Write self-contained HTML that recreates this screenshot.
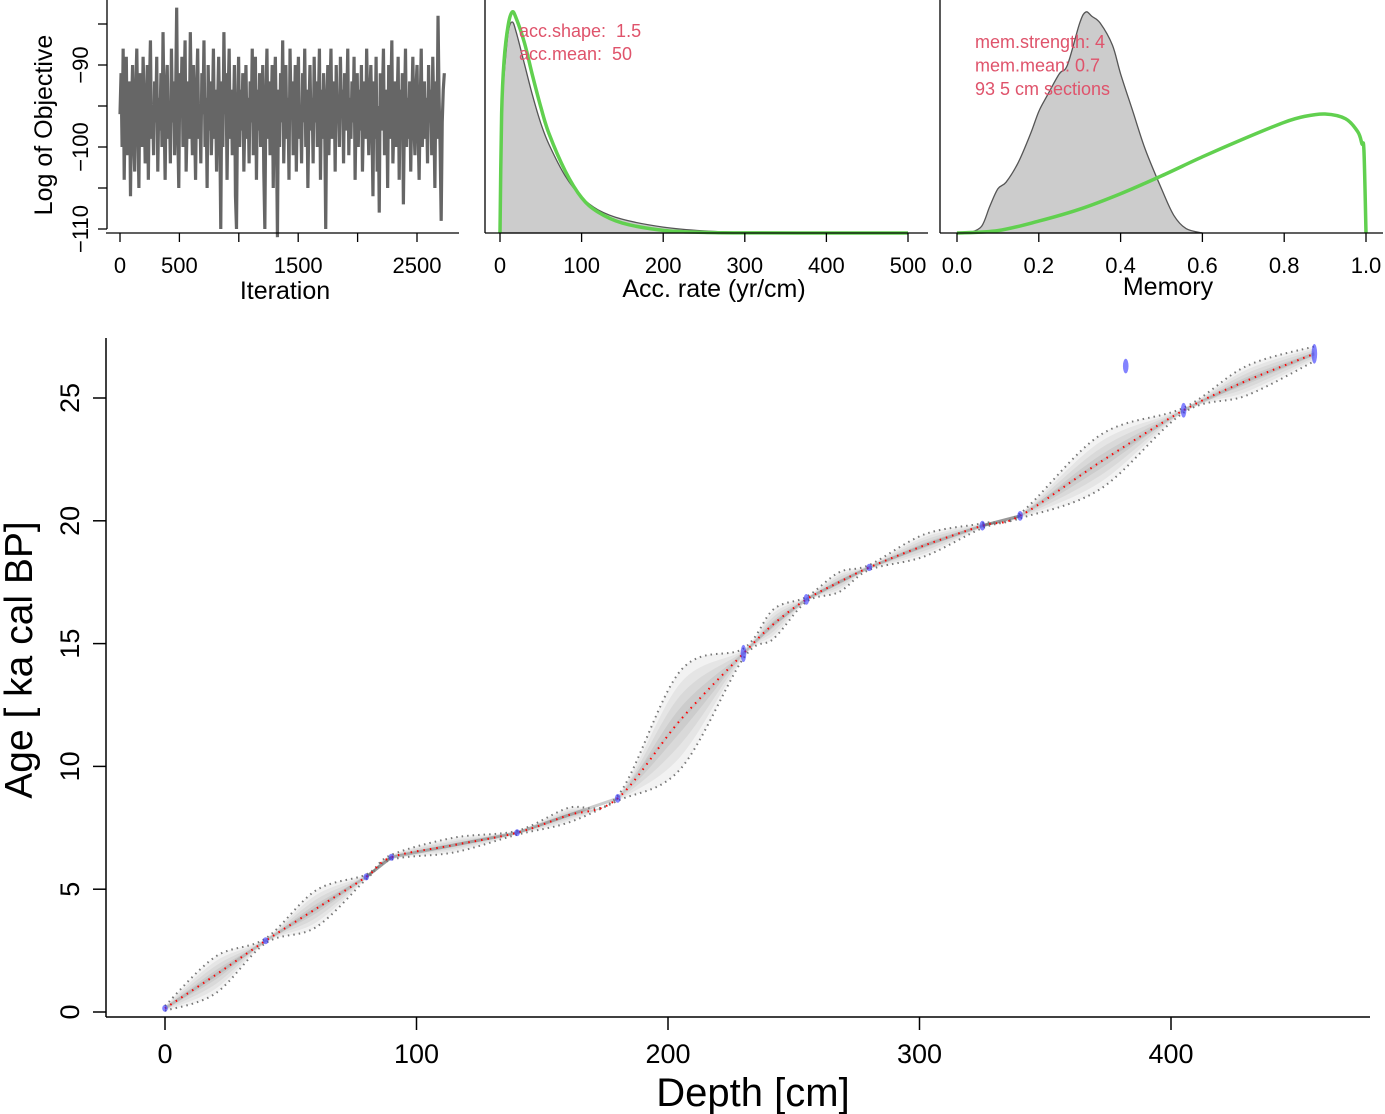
<!DOCTYPE html>
<html><head><meta charset="utf-8">
<style>
html,body{margin:0;padding:0;background:#fff;}
svg{display:block;font-family:"Liberation Sans",Arial,sans-serif;}
text{white-space:pre;}
</style></head>
<body>
<svg id="fig" width="1385" height="1114" viewBox="0 0 1385 1114" xmlns="http://www.w3.org/2000/svg" xml:space="preserve"></svg>
<script>
// ---------- data ----------
const traceValues=[-96,-91,-100,-88,-104,-94,-89,-101,-97,-92,-106,-95,-90,-99,-103,-93,-88,-97,-105,-91,-96,-100,-89,-94,-102,-98,-90,-104,-93,-87,-99,-95,-101,-92,-97,-89,-103,-94,-98,-91,-100,-86,-96,-104,-93,-90,-99,-95,-102,-88,-97,-92,-101,-94,-83,-98,-105,-91,-96,-89,-100,-94,-87,-103,-97,-92,-99,-86,-95,-101,-90,-97,-104,-93,-88,-99,-95,-102,-91,-96,-87,-100,-94,-105,-90,-98,-92,-101,-96,-88,-99,-93,-103,-95,-89,-97,-110,-92,-100,-86,-96,-91,-104,-94,-88,-99,-93,-101,-97,-90,-106,-110,-95,-89,-100,-93,-98,-91,-103,-96,-90,-99,-94,-102,-92,-97,-88,-101,-95,-89,-104,-93,-98,-91,-100,-96,-90,-103,-110,-94,-88,-99,-92,-101,-96,-90,-105,-94,-89,-98,-111,-93,-100,-91,-97,-87,-102,-95,-90,-99,-94,-104,-88,-96,-92,-101,-97,-90,-103,-94,-89,-99,-95,-102,-91,-97,-88,-100,-93,-105,-96,-90,-98,-94,-102,-89,-97,-92,-100,-95,-88,-104,-93,-99,-91,-97,-110,-95,-90,-101,-94,-88,-99,-96,-92,-103,-90,-97,-94,-100,-89,-96,-93,-102,-91,-98,-95,-88,-101,-94,-99,-92,-97,-89,-104,-95,-91,-100,-93,-98,-90,-103,-96,-92,-99,-88,-95,-101,-94,-90,-97,-106,-92,-99,-89,-103,-95,-108,-91,-98,-94,-88,-101,-96,-93,-105,-90,-99,-94,-87,-102,-97,-92,-100,-95,-89,-104,-93,-98,-91,-107,-96,-88,-100,-94,-99,-92,-103,-95,-89,-97,-101,-93,-90,-98,-104,-95,-88,-100,-96,-92,-99,-94,-102,-90,-97,-93,-101,-89,-96,-105,-92,-99,-84,-94,-100,-109,-97,-93,-91];
const traceTicks=[0,500,1000,1500,2000,2500];
const traceTickLabels=["0","500","","1500","","2500"];
const traceYTicks=[-85,-90,-95,-100,-105,-110];
const traceYLabels=["","−90","","−100","","−110"];

const accX=[0,2,5,10,15,20,30,40,50,60,80,100,120,150,200,250,300,400,500];
const accPost=[0,0.6,0.75,0.95,1.0,0.95,0.8,0.65,0.52,0.42,0.27,0.17,0.11,0.065,0.028,0.01,0.003,0,0];
const accPrior=[0,0.54,0.78,0.94,1.0,0.97,0.86,0.71,0.57,0.45,0.28,0.16,0.095,0.045,0.012,0.003,0.0006,0,0];
const accTicks=[0,100,200,300,400,500];

const memX=[0.03,0.06,0.08,0.1,0.12,0.15,0.18,0.2,0.22,0.25,0.27,0.3,0.315,0.33,0.35,0.38,0.4,0.43,0.46,0.5,0.53,0.56,0.6];
const memPost=[0,0.03,0.12,0.2,0.23,0.32,0.45,0.55,0.62,0.72,0.76,0.95,1.0,0.98,0.95,0.85,0.72,0.55,0.38,0.2,0.08,0.02,0];
const memPriorX=[0,0.1,0.2,0.3,0.4,0.5,0.6,0.7,0.8,0.85,0.9,0.95,0.98,0.99,0.995,1.0];
const memPrior=[0,0.02,0.1,0.2,0.33,0.48,0.64,0.79,0.93,0.98,1.0,0.96,0.85,0.75,0.69,0];
const memTicks=[0,0.2,0.4,0.6,0.8,1.0];
const memTickLabels=["0.0","0.2","0.4","0.6","0.8","1.0"];

const depthKnots=[0,20,40,60,80,90,115,140,160,180,205,230,242,255,268,280,302,325,340,372,405,430,457];
const ageMedian=[0.15,1.5,2.9,4.2,5.5,6.3,6.8,7.3,8.0,8.7,11.9,14.6,15.8,16.8,17.5,18.1,19.0,19.8,20.2,22.4,24.5,25.7,26.8];
const ageHalfWidth=[0.1,0.75,0.1,0.75,0.1,0.1,0.3,0.08,0.3,0.1,2.0,0.2,0.6,0.1,0.4,0.1,0.45,0.1,0.1,1.1,0.1,0.6,0.3];
const dateDepths=[0,40,80,90,140,180,230,255,280,325,340,382,405,457];
const dateAges=[0.15,2.9,5.5,6.3,7.3,8.7,14.6,16.8,18.1,19.8,20.2,26.3,24.5,26.8];
const dateSd=[0.12,0.12,0.12,0.12,0.12,0.18,0.35,0.22,0.15,0.2,0.2,0.3,0.3,0.4];
const depthTicks=[0,100,200,300,400];
const ageTicks=[0,5,10,15,20,25];

// ---------- helpers ----------
const NS="http://www.w3.org/2000/svg";
const svg=document.getElementById('fig');
function mk(tag,attrs,parent){const e=document.createElementNS(NS,tag);for(const k in attrs)e.setAttribute(k,attrs[k]);(parent||svg).appendChild(e);return e;}
function txt(s,x,y,size,anchor,rot,fill){const t=mk('text',{x:x,y:y,'font-size':size,'text-anchor':anchor||'middle',fill:fill||'#000'});if(rot)t.setAttribute('transform','rotate(-90 '+x+' '+y+')');t.textContent=s;return t;}
function smooth(P){let d='';for(let i=0;i<P.length-1;i++){const p0=P[Math.max(0,i-1)],p1=P[i],p2=P[i+1],p3=P[Math.min(P.length-1,i+2)];
 const c1=[p1[0]+(p2[0]-p0[0])/6,p1[1]+(p2[1]-p0[1])/6],c2=[p2[0]-(p3[0]-p1[0])/6,p2[1]-(p3[1]-p1[1])/6];
 d+=' C'+c1[0]+','+c1[1]+' '+c2[0]+','+c2[1]+' '+p2[0]+','+p2[1];}return d;}

// ---------- panel 1: trace ----------
const tx=v=>120+v*(417-120)/2500;
const ty=v=>65+(v+90)*(147-65)/(-10);
const g1=mk('g',{});


let pts=traceValues.map((v,i)=>tx(i*2730/(traceValues.length-1))+','+ty(v)).join(' ');
const tl=mk('polyline',{points:pts,fill:'none',stroke:'#666','stroke-width':3.2,'stroke-linejoin':'miter','stroke-miterlimit':2},g1);


mk('line',{x1:107,y1:0,x2:107,y2:229,stroke:'#000','stroke-width':1.3},g1);
mk('line',{x1:106,y1:233,x2:459,y2:233,stroke:'#000','stroke-width':1.3},g1);
traceTicks.forEach((t,i)=>{mk('line',{x1:tx(t),y1:233,x2:tx(t),y2:242,stroke:'#000','stroke-width':1.3},g1);
 if(traceTickLabels[i]){const l=txt(traceTickLabels[i],tx(t),273,22);}});
traceYTicks.forEach((t,i)=>{mk('line',{x1:107,y1:ty(t),x2:98,y2:ty(t),stroke:'#000','stroke-width':1.3},g1);
 if(traceYLabels[i]){const l=txt(traceYLabels[i],88,ty(t),22,'middle',true);}});
let e=txt('Iteration',285,299,25);
e=txt('Log of Objective',52,125,25,'middle',true);

// ---------- panel 2: acc rate ----------
const ax=v=>500+v*(908-500)/500;
const ay=h=>233-h;
const g2=mk('g',{});


let p='M'+ax(0)+','+ay(0)+smooth(accX.map((x,i)=>[ax(x),ay(accPost[i]*211)]))+' Z';
e=mk('path',{d:p,fill:'#cccccc',stroke:'#555','stroke-width':1.3},g2);

e=mk('path',{d:'M'+ax(0)+','+ay(0)+smooth(accX.map((x,i)=>[ax(x),ay(accPrior[i]*221)])),fill:'none',stroke:'#61D04F','stroke-width':3.5},g2);

mk('line',{x1:485,y1:0,x2:485,y2:233,stroke:'#000','stroke-width':1.3},g2);
mk('line',{x1:485,y1:233,x2:928,y2:233,stroke:'#000','stroke-width':1.3},g2);
accTicks.forEach(t=>{mk('line',{x1:ax(t),y1:233,x2:ax(t),y2:242,stroke:'#000','stroke-width':1.3},g2);
 const l=txt(String(t),ax(t),273,22);});
e=txt('Acc. rate (yr/cm)',714,297,25);
e=txt('acc.shape:  1.5',519,37,18,'start',false,'#DF536B');
e=txt('acc.mean:  50',519,60,18,'start',false,'#DF536B');

// ---------- panel 3: memory ----------
const mx=v=>957+v*(1366-957);
const g3=mk('g',{});


p='M'+mx(memX[0])+','+ay(0)+smooth(memX.map((x,i)=>[mx(x),ay(memPost[i]*221)]))+' Z';
e=mk('path',{d:p,fill:'#cccccc',stroke:'#555','stroke-width':1.3},g3);

e=mk('path',{d:'M'+mx(0)+','+ay(0)+smooth(memPriorX.map((x,i)=>[mx(x),ay(memPrior[i]*119)])),fill:'none',stroke:'#61D04F','stroke-width':3.5},g3);

mk('line',{x1:940,y1:0,x2:940,y2:233,stroke:'#000','stroke-width':1.3},g3);
mk('line',{x1:940,y1:233,x2:1383,y2:233,stroke:'#000','stroke-width':1.3},g3);
memTicks.forEach((t,i)=>{mk('line',{x1:mx(t),y1:233,x2:mx(t),y2:242,stroke:'#000','stroke-width':1.3},g3);
 const l=txt(memTickLabels[i],mx(t),273,22);});
e=txt('Memory',1168,295,25);
['mem.strength: 4','mem.mean: 0.7','93 5 cm sections'].forEach((s,i)=>{const l=txt(s,975,48+i*23.5,18,'start',false,'#DF536B');
 });

// ---------- main age-depth ----------
const dx=d=>165+d*(1171-165)/400;
const ayM=a=>1012-a*(1012-398)/25;
const gm=mk('g',{});


function bound(f){return depthKnots.map((d,i)=>[dx(d),ayM(ageMedian[i]+ageHalfWidth[i]*f)]);}
function envPath(f){const up=bound(f),lo=bound(-f).reverse();
 return 'M'+up[0][0]+','+up[0][1]+smooth(up)+' L'+lo[0][0]+','+lo[0][1]+smooth(lo)+' Z';}
[[1,0.05],[0.75,0.05],[0.5,0.05],[0.25,0.06]].forEach(([f,o])=>{
 const pp=mk('path',{d:envPath(f),fill:'#000','fill-opacity':o,stroke:'none'},gm);
 });
for(let i=0;i<depthKnots.length-1;i++){const w=(ageHalfWidth[i]+ageHalfWidth[i+1])/2;const op=Math.min(0.9,0.04/w);
 const s=mk('line',{x1:dx(depthKnots[i]),y1:ayM(ageMedian[i]),x2:dx(depthKnots[i+1]),y2:ayM(ageMedian[i+1]),stroke:'#000','stroke-opacity':op,'stroke-width':3},gm);
 }
[1,-1].forEach(sg=>{const B=bound(sg);const b=mk('path',{d:'M'+B[0][0]+','+B[0][1]+smooth(B),fill:'none',stroke:'#777','stroke-width':2,'stroke-dasharray':'1.5 4'},gm);
 });
const M=bound(0);
e=mk('path',{d:'M'+M[0][0]+','+M[0][1]+smooth(M),fill:'none',stroke:'#ff0000','stroke-width':2,'stroke-dasharray':'1.5 5'},gm);

dateDepths.forEach((d,i)=>{const el=mk('ellipse',{cx:dx(d),cy:ayM(dateAges[i]),rx:2.8,ry:Math.max(3.5,dateSd[i]*24.5),fill:'#3030ff','fill-opacity':0.6},gm);
 });
mk('line',{x1:106,y1:338,x2:106,y2:1017,stroke:'#000','stroke-width':1.5},gm);
mk('line',{x1:106,y1:1017,x2:1370,y2:1017,stroke:'#000','stroke-width':1.5},gm);
depthTicks.forEach(t=>{mk('line',{x1:dx(t),y1:1017,x2:dx(t),y2:1030,stroke:'#000','stroke-width':1.5},gm);
 const l=txt(String(t),dx(t),1063,27);});
ageTicks.forEach(t=>{mk('line',{x1:106,y1:ayM(t),x2:93,y2:ayM(t),stroke:'#000','stroke-width':1.5},gm);
 const l=txt(String(t),79,ayM(t),27,'middle',true);});
e=txt('Depth [cm]',753,1106,40);
e=txt('Age [ ka cal BP]',32,660,39,'middle',true);
</script>
</body></html>
